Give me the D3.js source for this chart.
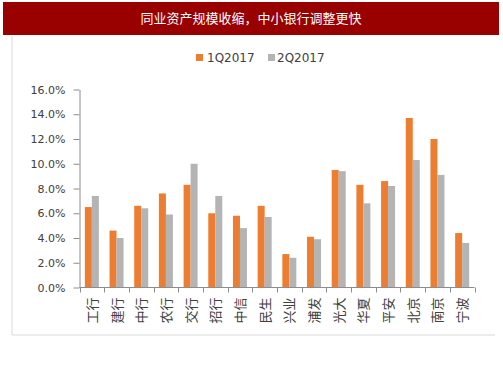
<!DOCTYPE html>
<meta charset="utf-8">
<style>
body { margin: 0; background: #fff; }
svg text { font-family: "Noto Sans CJK SC", "DejaVu Sans", sans-serif; }
</style>
<body>
<svg width="503" height="378"></svg>
<script src="https://d3js.org/d3.v7.min.js"></script>
<script>
var title = "同业资产规模收缩，中小银行调整更快";
var banks = ["工行","建行","中行","农行","交行","招行","中信","民生","兴业","浦发","光大","华夏","平安","北京","南京","宁波"];
var seriesNames = ["1Q2017", "2Q2017"];
var q1 = [6.5, 4.6, 6.6, 7.6, 8.3, 6.0, 5.8, 6.6, 2.7, 4.1, 9.5, 8.3, 8.6, 13.7, 12.0, 4.4];
var q2 = [7.4, 4.0, 6.4, 5.9, 10.0, 7.4, 4.8, 5.7, 2.4, 3.9, 9.4, 6.8, 8.2, 10.3, 9.1, 3.6];
var yTicks = [0, 2, 4, 6, 8, 10, 12, 14, 16];
var colors = ["#ed7d31", "#b4b4b4"];

var svg = d3.select("svg");

// title bar
svg.append("rect").attr("x", 3).attr("y", 2).attr("width", 496).attr("height", 33).attr("fill", "#990000");
svg.append("text").attr("x", 251).attr("y", 23).attr("text-anchor", "middle")
  .attr("fill", "#fff").style("font-size", "13px").text(title);

// frame
svg.append("path").attr("d", "M12,36V335H495").attr("fill", "none").attr("stroke", "#d9d9d9");

var x = d3.scaleBand().domain(banks).range([79.5, 474.5]);
var y = d3.scaleLinear().domain([0, 16]).range([287.5, 89.5]);
var bw = 7;

var g = svg.append("g");
banks.forEach(function(b, i) {
  var cx = x(b) + x.bandwidth() / 2;
  [q1[i], q2[i]].forEach(function(v, k) {
    g.append("rect")
      .attr("x", cx - bw + k * bw)
      .attr("y", y(v))
      .attr("width", bw)
      .attr("height", y(0) - y(v))
      .attr("fill", colors[k]);
  });
});

// y axis
var ya = svg.append("g").attr("transform", "translate(79.5,0)")
  .call(d3.axisLeft(y).tickValues(yTicks).tickSize(6).tickSizeOuter(0)
    .tickFormat(function(d) { return d.toFixed(1) + "%"; }));
ya.selectAll("path,line").attr("stroke", "#8c8c8c");
ya.selectAll("text").attr("fill", "#404040").style("font-size", "11px")
  .style("font-family", "'DejaVu Sans', sans-serif").attr("x", -14);

// x axis
var xa = svg.append("g").attr("transform", "translate(0,287.5)");
xa.append("line").attr("x1", 79.5).attr("x2", 474.5).attr("stroke", "#8c8c8c");
var bounds = banks.map(function(b) { return x(b); }).concat([x.range()[1]]);
xa.selectAll(".tk").data(bounds).enter().append("line")
  .attr("x1", function(d) { return Math.round(d) + 0.5; })
  .attr("x2", function(d) { return Math.round(d) + 0.5; })
  .attr("y1", 0).attr("y2", 5).attr("stroke", "#8c8c8c");
xa.selectAll(".lbl").data(banks).enter().append("text")
  .attr("transform", function(d) { return "translate(" + (x(d) + x.bandwidth() / 2 + 5) + ",10) rotate(-90)"; })
  .attr("text-anchor", "end")
  .attr("fill", "#404040")
  .style("font-size", "13px")
  .text(function(d) { return d; });

// legend
var lg = svg.append("g");
[[196, 207], [268, 277]].forEach(function(p, k) {
  lg.append("rect").attr("x", p[0]).attr("y", 54).attr("width", 7).attr("height", 7).attr("fill", colors[k]);
  lg.append("text").attr("x", p[1]).attr("y", 62).attr("fill", "#404040")
    .style("font-size", "12px").style("font-family", "'DejaVu Sans', sans-serif").text(seriesNames[k]);
});
</script>
</body>
